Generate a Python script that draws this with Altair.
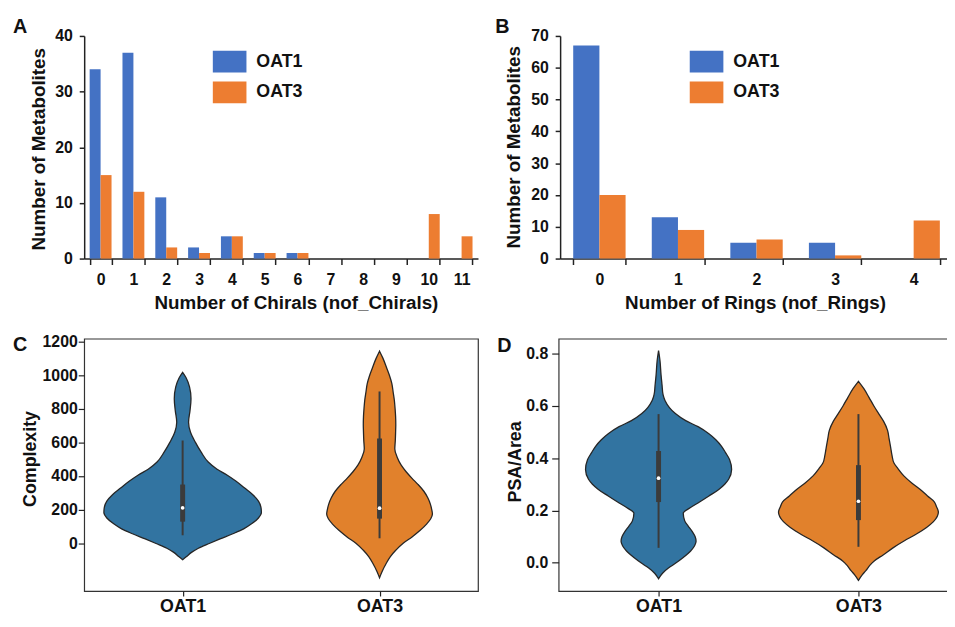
import altair as alt
import pandas as pd

FONT = "Liberation Sans"
INK = "#111111"
AXC = "#222222"

transporters = ["OAT1", "OAT3"]
bar_colors = ["#4472C4", "#ED7D31"]
violin_colors = ["#3274A1", "#E1812C"]
box_color = "#3b3b3b"
panel_letters = ["A", "B", "C", "D"]

# Panel A: number of chirals
chiral_cats = ["0", "1", "2", "3", "4", "5", "6", "7", "8", "9", "10", "11"]
chiral_oat1 = [34, 37, 11, 2, 4, 1, 1, 0, 0, 0, 0, 0]
chiral_oat3 = [15, 12, 2, 1, 4, 1, 1, 0, 0, 0, 8, 4]

# Panel B: number of rings
ring_cats = ["0", "1", "2", "3", "4"]
ring_oat1 = [67, 13, 5, 5, 0]
ring_oat3 = [20, 9, 6, 1, 12]

# Panel C: complexity violins (value, relative density)
c_oat1_val = [-99, -80, -55, -30, -2, 25, 56, 85, 115, 150, 182, 215, 250, 290, 328, 370, 406,
              440, 483, 540, 600, 660, 720, 790, 860, 930, 985, 1017]
c_oat1_den = [0, 4, 9, 16, 27, 38, 51, 62, 70, 77, 80, 79.5, 77, 71, 63, 54, 45,
              35, 26, 19, 13, 8, 6, 7.5, 8.5, 7, 3.5, 0]
c_oat3_val = [-206, -170, -118, -80, -41, 0, 37, 75, 115, 145, 173, 200, 231, 270, 309, 350, 386,
              425, 464, 510, 561, 610, 658, 705, 755, 800, 852, 900, 950, 1000, 1047, 1100, 1143]
c_oat3_den = [0, 2.5, 7, 11, 16.7, 24, 33, 41, 48, 52, 53.7, 53, 51.7, 49, 45, 39, 33,
              27, 22, 18, 15.5, 16, 16.3, 16.5, 16.3, 15.8, 15, 13.8, 12.5, 10, 7, 3.5, 0]
c_wlo = [47, 29]
c_q1 = [128, 146]
c_med = [210, 208]
c_q3 = [349, 623]
c_whi = [611, 903]

# Panel D: PSA/Area violins
d_oat1_val = [-0.061, -0.04, -0.02, -0.005, 0.02, 0.045, 0.065, 0.082, 0.1, 0.12, 0.14, 0.16, 0.19,
              0.21, 0.232, 0.255, 0.28, 0.3, 0.319, 0.356, 0.394, 0.42, 0.444, 0.47, 0.493, 0.52,
              0.543, 0.57, 0.593, 0.62, 0.643, 0.68, 0.718, 0.77, 0.811]
d_oat1_den = [0, 4, 10, 16, 25, 32.5, 36.5, 38, 37, 34, 30, 26.5, 25,
              32, 41.5, 51, 61, 67, 71, 74, 72, 68, 64, 58, 51, 40,
              27.5, 17, 11, 6.5, 4.5, 3.5, 2.5, 1.5, 0]
d_oat3_val = [-0.067, -0.045, -0.03, -0.01, 0.007, 0.03, 0.057, 0.085, 0.107, 0.135, 0.157, 0.194,
              0.215, 0.232, 0.255, 0.282, 0.305, 0.332, 0.36, 0.381, 0.41, 0.444, 0.475, 0.506,
              0.54, 0.568, 0.6, 0.631, 0.665, 0.693]
d_oat3_den = [0, 4, 7.5, 11.5, 16, 25, 35, 47, 57.5, 69, 76, 81,
              79, 77, 70, 62, 54, 46, 40, 36, 34, 32.5, 31, 29.5,
              25.5, 20.8, 15.5, 10.8, 5.5, 0]
d_wlo = [0.057, 0.061]
d_q1 = [0.232, 0.163]
d_med = [0.323, 0.235]
d_q3 = [0.427, 0.373]
d_whi = [0.568, 0.568]

y_title_bars = "Number of Metabolites"
x_title_a = "Number of Chirals (nof_Chirals)"
x_title_b = "Number of Rings (nof_Rings)"
y_title_c = "Complexity"
y_title_d = "PSA/Area"

LEGEND_SYMBOL = "M-1.545,-1H1.545V1H-1.545Z"


def letter_layer(letter, dx, dy):
    return alt.Chart(pd.DataFrame({"letter": [letter]})).mark_text(
        font=FONT, fontSize=20, fontWeight="bold", color=INK, align="left", baseline="alphabetic"
    ).encode(text="letter:N", x=alt.value(dx), y=alt.value(dy))


def bar_panel(cats, v1, v3, ymax, yticks, xtitle, xtitle_x, ytitle_x, ytitle_y, width, letter,
              letter_dx, legend_x):
    n = len(cats)
    df = pd.DataFrame({
        "cat": cats + cats,
        "Transporter": [transporters[0]] * n + [transporters[1]] * n,
        "count": v1 + v3,
    })
    bars = alt.Chart(df).mark_bar().encode(
        x=alt.X("cat:N", sort=cats, scale=alt.Scale(paddingInner=1 / 3, paddingOuter=1 / 6),
                axis=alt.Axis(title=xtitle, labelAngle=0, tickBand="extent", tickSize=6,
                              labelPadding=7, titleX=xtitle_x, titleY=35, domainWidth=1.5,
                              tickWidth=1.5, titleFontSize=19)),
        xOffset=alt.XOffset("Transporter:N", sort=transporters,
                            scale=alt.Scale(paddingInner=0, paddingOuter=0)),
        y=alt.Y("count:Q", scale=alt.Scale(domain=[0, ymax], nice=False),
                axis=alt.Axis(title=y_title_bars, values=yticks, tickSize=5, labelPadding=7,
                              titleX=ytitle_x, titleY=ytitle_y, grid=False, domainWidth=1.5,
                              tickWidth=1.5, titleFontSize=19)),
        color=alt.Color("Transporter:N", sort=transporters,
                        scale=alt.Scale(domain=transporters, range=bar_colors),
                        legend=alt.Legend(orient="none", legendX=legend_x, legendY=15, title=None,
                                          symbolType=LEGEND_SYMBOL, symbolSize=484,
                                          symbolStrokeWidth=0, symbolOpacity=1,
                                          labelFontSize=18, labelOffset=16, rowPadding=9,
                                          padding=0)),
    )
    return alt.layer(bars, letter_layer(letter, letter_dx, -3)).properties(width=width, height=225)


def violin_panel(vals1, den1, vals3, den3, wlo, q1, med, q3, whi, ydomain, yticks, yformat,
                 ytitle, ytitle_x, ytitle_y, width, letter, letter_dx, letter_dy, ytick, ypad):
    rows = []
    for pos, (grp, vals, den) in enumerate([(transporters[0], vals1, den1),
                                            (transporters[1], vals3, den3)]):
        for v, d in zip(vals, den):
            rows.append({"grp": grp, "pos": pos, "value": v, "dens": d})
    df = pd.DataFrame(rows)
    dmax = max(max(den1), max(den3))
    bdf = pd.DataFrame({"grp": transporters, "pos": [0, 1], "wlo": wlo, "q1": q1, "med": med,
                        "q3": q3, "whi": whi})
    xscale = alt.Scale(domain=[-0.5, 1.5], nice=False, zero=False)
    yscale = alt.Scale(domain=ydomain, nice=False, zero=False)
    label_expr = "[" + ",".join("'%s'" % t for t in transporters) + "][datum.value]"
    xaxis = alt.Axis(title=None, values=[0, 1], labelExpr=label_expr, domain=False, tickSize=5,
                     labelPadding=2, labelFontSize=18, grid=False, tickWidth=1.2)
    yaxis = alt.Axis(title=ytitle, values=yticks, format=yformat, domain=False, tickSize=ytick,
                     labelPadding=ypad, titleX=ytitle_x, titleY=ytitle_y, titleFontSize=18,
                     grid=False, tickWidth=1.2)
    area = alt.Chart(df).transform_calculate(
        lo="datum.pos - 0.4 * datum.dens / %f" % dmax,
        hi="datum.pos + 0.4 * datum.dens / %f" % dmax,
    ).mark_area(orient="horizontal", interpolate="monotone", stroke="#262626", strokeWidth=1.3,
                opacity=1).encode(
        y=alt.Y("value:Q", scale=yscale, axis=yaxis),
        x=alt.X("lo:Q", scale=xscale, axis=xaxis, stack=None),
        x2="hi:Q",
        color=alt.Color("grp:N", scale=alt.Scale(domain=transporters, range=violin_colors),
                        legend=None),
    )
    whisk = alt.Chart(bdf).mark_rule(color=box_color, strokeWidth=2).encode(
        x=alt.X("pos:Q", scale=xscale, axis=xaxis),
        y=alt.Y("wlo:Q", scale=yscale, axis=yaxis), y2="whi:Q")
    box = alt.Chart(bdf).mark_rule(color=box_color, strokeWidth=5).encode(
        x=alt.X("pos:Q", scale=xscale, axis=xaxis),
        y=alt.Y("q1:Q", scale=yscale, axis=yaxis), y2="q3:Q")
    medp = alt.Chart(bdf).mark_circle(color="white", size=14, opacity=1).encode(
        x=alt.X("pos:Q", scale=xscale, axis=xaxis),
        y=alt.Y("med:Q", scale=yscale, axis=yaxis))
    return alt.layer(area, whisk, box, medp, letter_layer(letter, letter_dx, letter_dy)).properties(
        width=width, height=255,
        view=alt.ViewBackground(stroke="#333333", strokeWidth=1.2))


panel_a = bar_panel(chiral_cats, chiral_oat1, chiral_oat3, 40, [0, 10, 20, 30, 40], x_title_a,
                    214, -36.5, 114, 398, panel_letters[0], -72, 136)
panel_b = bar_panel(ring_cats, ring_oat1, ring_oat3, 70, [0, 10, 20, 30, 40, 50, 60, 70],
                    x_title_b, 197, -37.5, 112, 397, panel_letters[1], -65.5, 137)
panel_c = violin_panel(c_oat1_val, c_oat1_den, c_oat3_val, c_oat3_den, c_wlo, c_q1, c_med, c_q3,
                       c_whi, [-285, 1217], [0, 200, 400, 600, 800, 1000, 1200], "d", y_title_c,
                       -45, 121, 398, panel_letters[2], -72, 12, 6, 1)
panel_d = violin_panel(d_oat1_val, d_oat1_den, d_oat3_val, d_oat3_den, d_wlo, d_q1, d_med, d_q3,
                       d_whi, [-0.108, 0.856], [0.0, 0.2, 0.4, 0.6, 0.8], ".1f", y_title_d,
                       -35, 124, 404, panel_letters[3], -62, 13, 7, 4)

row1 = alt.hconcat(panel_a, panel_b, spacing=17).resolve_scale(
    color="independent", xOffset="independent")
row2 = alt.hconcat(panel_c, panel_d, spacing=17.5).resolve_scale(color="independent")

chart = alt.vconcat(row1, row2, spacing=21).resolve_scale(
    color="independent", xOffset="independent"
).properties(
    padding={"left": 4, "top": 6, "right": -13, "bottom": -3}
).configure_view(strokeWidth=0).configure_axis(
    labelFont=FONT, titleFont=FONT, labelFontWeight="bold", titleFontWeight="bold",
    labelColor=INK, titleColor=INK, domainColor=AXC, tickColor=AXC, labelFontSize=16,
).configure_legend(labelFont=FONT, labelFontWeight="bold", labelColor=INK)

chart.save("out.html", embed_options={"renderer": "svg", "actions": False})
